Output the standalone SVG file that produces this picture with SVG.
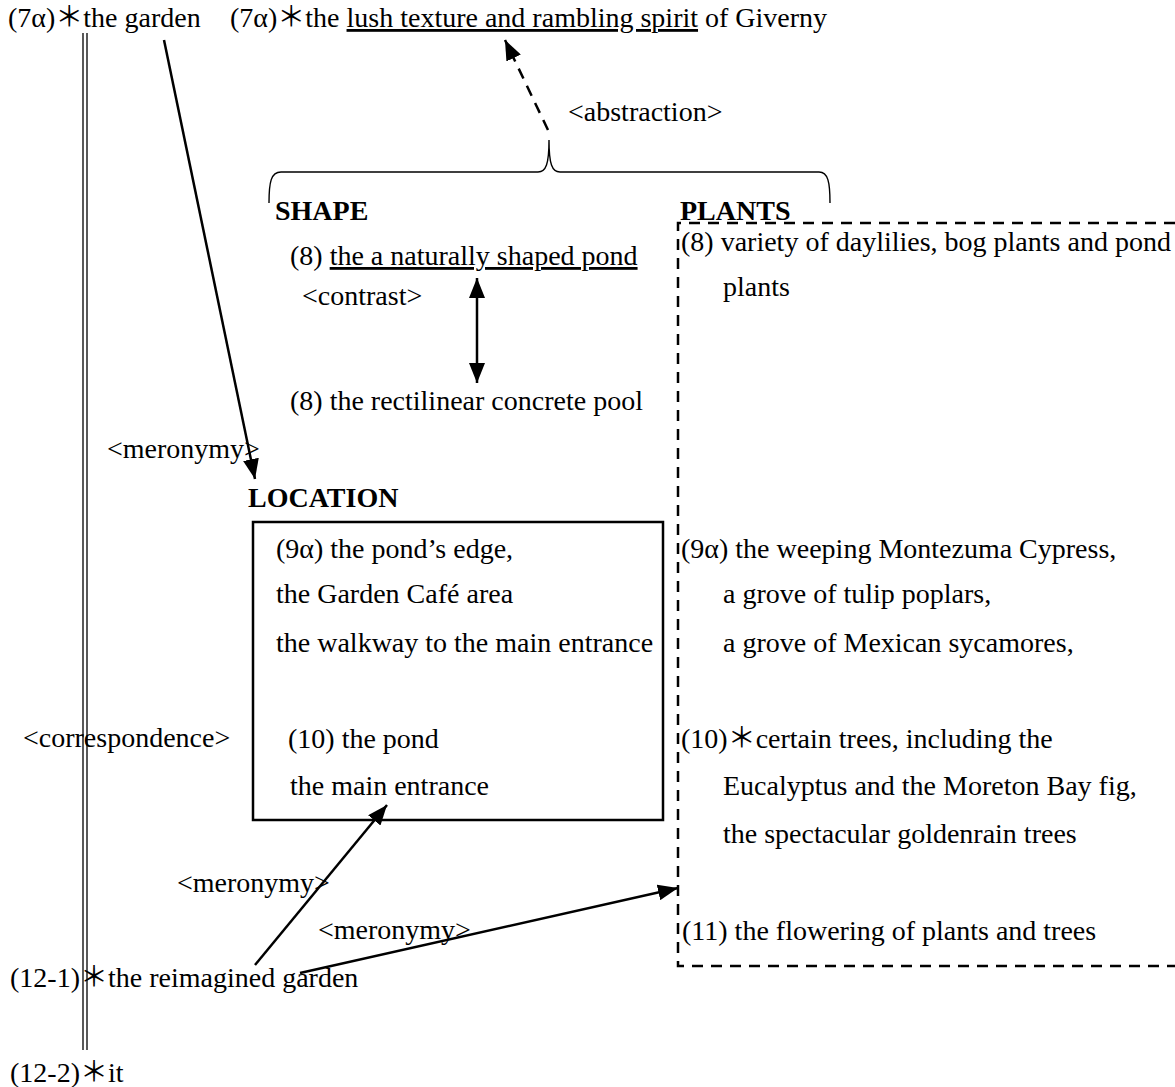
<svg xmlns="http://www.w3.org/2000/svg" width="1175" height="1087" viewBox="0 0 1175 1087">
  <style>
    text { font-family: "Liberation Serif", "Noto Sans CJK JP", serif; font-size: 28px; fill: #000; }
    .b { font-weight: bold; }
    .u { text-decoration: underline; }
    .ln { stroke: #000; stroke-width: 2.5; fill: none; }
    .dash { stroke: #000; stroke-width: 2.5; fill: none; stroke-dasharray: 11 8; }
    .brace { stroke: #000; stroke-width: 1.4; fill: none; }
  </style>
  <defs>
    <marker id="ah" markerUnits="userSpaceOnUse" markerWidth="22" markerHeight="16" refX="20" refY="8" orient="auto-start-reverse">
      <path d="M0,0 L20,8 L0,16 Z" fill="#000"/>
    </marker>
  </defs>

  <!-- top row -->
  <g id="n7a-garden"><text x="8" y="27">(7α)＊the garden</text></g>
  <g id="n7a-giverny"><text x="230" y="27">(7α)＊the <tspan class="u">lush texture and rambling spirit</tspan> of Giverny</text></g>

  <!-- brace over SHAPE and PLANTS -->
  <g id="abstraction-brace">
    <path class="brace" d="M269,203 C269,182 271,172 281,172 L538,172 C546,172 549,164 549,140 C549,164 552,172 560,172 L819,172 C828,172 830,182 830,203"/>
    <text x="568" y="121">&lt;abstraction&gt;</text>
  </g>

  <!-- SHAPE -->
  <g id="shape">
    <text class="b" x="275" y="220">SHAPE</text>
    <text x="290" y="265">(8) <tspan class="u">the a naturally shaped pond</tspan></text>
    <text x="302" y="305">&lt;contrast&gt;</text>
    <text x="290" y="410">(8) the rectilinear concrete pool</text>
  </g>

  <!-- PLANTS -->
  <g id="plants">
    <text class="b" x="680" y="220">PLANTS</text>
    <path class="dash" d="M1175,223 H678 V966 H1175"/>
    <text x="681" y="251">(8) variety of daylilies, bog plants and pond</text>
    <text x="723" y="296">plants</text>
    <text x="681" y="558">(9α) the weeping Montezuma Cypress,</text>
    <text x="723" y="603">a grove of tulip poplars,</text>
    <text x="723" y="652">a grove of Mexican sycamores,</text>
    <text x="681" y="748">(10)＊certain trees, including the</text>
    <text x="723" y="795">Eucalyptus and the Moreton Bay fig,</text>
    <text x="723" y="843">the spectacular goldenrain trees</text>
    <text x="682" y="940">(11) the flowering of plants and trees</text>
  </g>

  <!-- LOCATION -->
  <g id="location">
    <text class="b" x="248" y="507">LOCATION</text>
    <rect x="253" y="522" width="410" height="298" fill="none" stroke="#000" stroke-width="2.5"/>
    <text x="276" y="558">(9α) the pond’s edge,</text>
    <text x="276" y="603">the Garden Café area</text>
    <text x="276" y="652">the walkway to the main entrance</text>
    <text x="288" y="748">(10) the pond</text>
    <text x="290" y="795">the main entrance</text>
  </g>

  <!-- bottom left -->
  <g id="n12-1"><text x="10" y="987">(12-1)＊the reimagined garden</text></g>
  <g id="n12-2"><text x="10" y="1082">(12-2)＊it</text></g>

  <!-- relation labels -->
  <g id="labels">
    <text x="107" y="458">&lt;meronymy&gt;</text>
    <text x="23" y="747">&lt;correspondence&gt;</text>
    <text x="177" y="892">&lt;meronymy&gt;</text>
    <text x="318" y="939">&lt;meronymy&gt;</text>
  </g>

  <!-- connectors -->
  <g id="connectors">
    <!-- correspondence: double rule -->
    <line x1="83" y1="33" x2="83" y2="1050" stroke="#000" stroke-width="1.3"/>
    <line x1="87" y1="33" x2="87" y2="1050" stroke="#000" stroke-width="1.3"/>
    <!-- abstraction -->
    <line class="dash" x1="548" y1="130" x2="505" y2="40" marker-end="url(#ah)"/>
    <!-- contrast -->
    <line class="ln" x1="477" y1="278" x2="477" y2="383" marker-start="url(#ah)" marker-end="url(#ah)"/>
    <!-- meronymy arrows -->
    <line class="ln" x1="164" y1="40" x2="255" y2="479" marker-end="url(#ah)"/>
    <line class="ln" x1="255" y1="965" x2="387" y2="805" marker-end="url(#ah)"/>
    <line class="ln" x1="300" y1="973" x2="678" y2="888" marker-end="url(#ah)"/>
  </g>
</svg>
